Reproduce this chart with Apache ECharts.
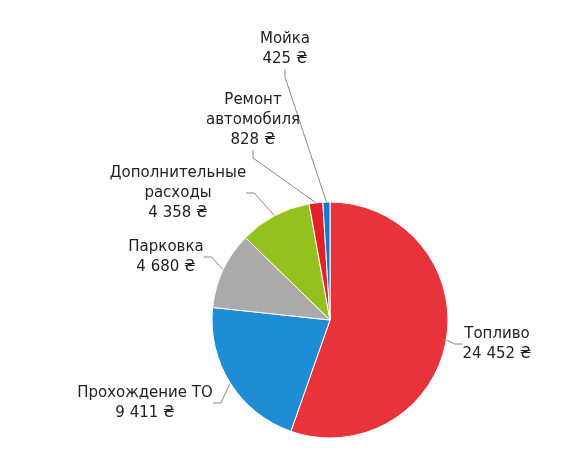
<!DOCTYPE html>
<html><head><meta charset="utf-8">
<script src="https://cdn.jsdelivr.net/npm/echarts@6/dist/echarts.min.js"></script>
<style>html,body{margin:0;padding:0;background:#fff}#c{width:580px;height:462px}</style>
</head><body><div id="c"></div>
<script>
const categories = ['Топливо','Прохождение ТО','Парковка','Дополнительные\nрасходы','Ремонт\nавтомобиля','Мойка'];
const values = [24452, 9411, 4680, 4358, 828, 425];
const colors = ['#e8333b','#1f8dd6','#aaaaaa','#95c11f','#e3202a','#1b78c8'];
const labelPos = [[497,344],[145,403],[166,257],[178,193],[253,120],[285,49]];
function fmt(v){return String(v).replace(/\B(?=(\d{3})+(?!\d))/g,' ')+' ₴';}
const chart = echarts.init(document.getElementById('c'));
chart.setOption({
  animation:false,
  series:[{
    type:'pie',
    center:[330,320],
    radius:[0,118],
    startAngle:90,
    clockwise:true,
    itemStyle:{borderColor:'#fff',borderWidth:1},
    label:{show:true,fontFamily:'DejaVu Sans',fontSize:15,color:'#222',lineHeight:20,align:'center',
      formatter:p=>p.name+'\n'+fmt(p.value)},
    labelLine:{show:true,length:8,length2:8,lineStyle:{color:'#888',width:1}},
    labelLayout:p=>({x:labelPos[p.dataIndex][0],y:labelPos[p.dataIndex][1],align:'center',verticalAlign:'middle'}),
    data:categories.map((n,i)=>({name:n,value:values[i],itemStyle:{color:colors[i]}}))
  }]
});
</script></body></html>
